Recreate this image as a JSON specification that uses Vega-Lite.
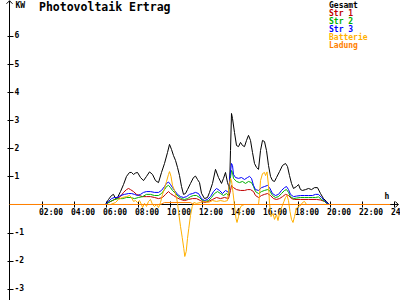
{
"$schema": "https://vega.github.io/schema/vega-lite/v6.json",
"width": 400, "height": 300, "autosize": "none", "padding": 0, "background": "white",
"config": {"view": {"stroke": null}, "font": "DejaVu Sans Mono", "axis": {"labelOverlap": false, "labelBound": false, "labelFlush": false, "grid": false, "domain": false, "tickCount": 30}},
"title": {"text": "Photovoltaik Ertrag", "anchor": "start", "frame": "group", "font": "DejaVu Sans Mono", "fontSize": 11.5, "fontWeight": "bold", "color": "black", "baseline": "top", "offset": 0, "dx": 39, "dy": 15},
"datasets": {
"gesamt": [{"t":6,"v":0},{"t":6.1875,"v":0.18},{"t":6.375,"v":0.32},{"t":6.5,"v":0.36},{"t":6.625,"v":0.21},{"t":6.75,"v":0.25},{"t":6.9375,"v":0.46},{"t":7.125,"v":0.71},{"t":7.3125,"v":1.0},{"t":7.5,"v":1.14},{"t":7.625,"v":1.14},{"t":7.75,"v":1.07},{"t":7.875,"v":1.12},{"t":8.0,"v":1.14},{"t":8.1875,"v":0.96},{"t":8.375,"v":0.85},{"t":8.5625,"v":1.0},{"t":8.75,"v":1.16},{"t":8.9375,"v":1.07},{"t":9.125,"v":0.85},{"t":9.3125,"v":0.78},{"t":9.5,"v":1.14},{"t":9.6875,"v":1.46},{"t":9.875,"v":1.85},{"t":10.0,"v":2.14},{"t":10.125,"v":1.96},{"t":10.25,"v":1.74},{"t":10.375,"v":1.57},{"t":10.5,"v":1.32},{"t":10.625,"v":1.03},{"t":10.75,"v":0.64},{"t":10.875,"v":0.36},{"t":11.0,"v":0.39},{"t":11.125,"v":0.53},{"t":11.3125,"v":0.75},{"t":11.5,"v":0.96},{"t":11.625,"v":1.01},{"t":11.75,"v":0.89},{"t":11.875,"v":0.78},{"t":12.0,"v":0.4},{"t":12.1875,"v":0.21},{"t":12.375,"v":0.25},{"t":12.5,"v":0.43},{"t":12.6875,"v":0.75},{"t":12.875,"v":1.25},{"t":13.0625,"v":0.96},{"t":13.25,"v":0.75},{"t":13.375,"v":0.93},{"t":13.5,"v":1.14},{"t":13.625,"v":0.78},{"t":13.75,"v":0.57},{"t":13.8125,"v":1.92},{"t":13.875,"v":3.24},{"t":13.9375,"v":3.06},{"t":14.0625,"v":2.56},{"t":14.1875,"v":2.1},{"t":14.3125,"v":2.06},{"t":14.4375,"v":2.21},{"t":14.5625,"v":2.1},{"t":14.6875,"v":2.06},{"t":14.8125,"v":2.28},{"t":14.9375,"v":2.46},{"t":15.0625,"v":2.28},{"t":15.1875,"v":1.85},{"t":15.3125,"v":1.46},{"t":15.4375,"v":1.32},{"t":15.5625,"v":1.25},{"t":15.6875,"v":1.92},{"t":15.8125,"v":2.28},{"t":15.9375,"v":2.24},{"t":16.0625,"v":1.92},{"t":16.1875,"v":1.39},{"t":16.3125,"v":1.0},{"t":16.4375,"v":0.85},{"t":16.5625,"v":0.82},{"t":16.6875,"v":0.96},{"t":16.875,"v":1.17},{"t":17.0625,"v":1.39},{"t":17.25,"v":1.46},{"t":17.375,"v":1.35},{"t":17.5,"v":1.03},{"t":17.625,"v":0.75},{"t":17.75,"v":0.57},{"t":17.9375,"v":0.64},{"t":18.0625,"v":0.71},{"t":18.1875,"v":0.53},{"t":18.3125,"v":0.5},{"t":18.5,"v":0.53},{"t":18.6875,"v":0.57},{"t":18.875,"v":0.53},{"t":19.0625,"v":0.6},{"t":19.25,"v":0.6},{"t":19.4375,"v":0.39},{"t":19.625,"v":0.21},{"t":19.8125,"v":0.11},{"t":19.9375,"v":0.02},{"t":20.0,"v":0}],
"str1": [{"t":6,"v":0},{"t":6.1875,"v":0.07},{"t":6.4375,"v":0.14},{"t":6.6875,"v":0.21},{"t":6.9375,"v":0.28},{"t":7.125,"v":0.43},{"t":7.3125,"v":0.53},{"t":7.4375,"v":0.57},{"t":7.5625,"v":0.53},{"t":7.75,"v":0.46},{"t":7.9375,"v":0.36},{"t":8.125,"v":0.32},{"t":8.3125,"v":0.28},{"t":8.5625,"v":0.28},{"t":8.8125,"v":0.28},{"t":9.0625,"v":0.25},{"t":9.3125,"v":0.21},{"t":9.5625,"v":0.25},{"t":9.75,"v":0.36},{"t":9.9375,"v":0.46},{"t":10.0625,"v":0.39},{"t":10.25,"v":0.32},{"t":10.4375,"v":0.25},{"t":10.6875,"v":0.18},{"t":10.9375,"v":0.14},{"t":11.1875,"v":0.18},{"t":11.4375,"v":0.21},{"t":11.6875,"v":0.21},{"t":11.9375,"v":0.14},{"t":12.1875,"v":0.07},{"t":12.4375,"v":0.11},{"t":12.6875,"v":0.18},{"t":12.9375,"v":0.25},{"t":13.1875,"v":0.21},{"t":13.4375,"v":0.25},{"t":13.6875,"v":0.21},{"t":13.8125,"v":0.5},{"t":13.875,"v":0.68},{"t":14.0,"v":0.6},{"t":14.1875,"v":0.53},{"t":14.4375,"v":0.5},{"t":14.6875,"v":0.5},{"t":14.875,"v":0.53},{"t":15.0625,"v":0.53},{"t":15.25,"v":0.46},{"t":15.375,"v":0.32},{"t":15.5625,"v":0.25},{"t":15.75,"v":0.32},{"t":15.9375,"v":0.36},{"t":16.125,"v":0.39},{"t":16.3125,"v":0.32},{"t":16.5,"v":0.21},{"t":16.6875,"v":0.18},{"t":16.875,"v":0.21},{"t":17.0625,"v":0.28},{"t":17.25,"v":0.36},{"t":17.4375,"v":0.32},{"t":17.625,"v":0.21},{"t":17.8125,"v":0.18},{"t":18.1875,"v":0.18},{"t":18.6875,"v":0.18},{"t":19.1875,"v":0.18},{"t":19.4375,"v":0.16},{"t":19.6875,"v":0.11},{"t":19.875,"v":0.02},{"t":20.0,"v":0}],
"str2": [{"t":6,"v":0},{"t":6.3125,"v":0.11},{"t":6.5625,"v":0.18},{"t":6.8125,"v":0.21},{"t":7.0625,"v":0.21},{"t":7.3125,"v":0.25},{"t":7.5625,"v":0.25},{"t":7.8125,"v":0.21},{"t":8.0625,"v":0.25},{"t":8.3125,"v":0.28},{"t":8.5625,"v":0.36},{"t":8.8125,"v":0.36},{"t":9.0625,"v":0.32},{"t":9.3125,"v":0.32},{"t":9.5,"v":0.39},{"t":9.6875,"v":0.53},{"t":9.8125,"v":0.64},{"t":9.9375,"v":0.68},{"t":10.0625,"v":0.6},{"t":10.1875,"v":0.5},{"t":10.375,"v":0.39},{"t":10.5625,"v":0.28},{"t":10.75,"v":0.21},{"t":10.9375,"v":0.18},{"t":11.125,"v":0.21},{"t":11.3125,"v":0.28},{"t":11.5,"v":0.32},{"t":11.6875,"v":0.32},{"t":11.875,"v":0.25},{"t":12.0625,"v":0.14},{"t":12.25,"v":0.11},{"t":12.4375,"v":0.14},{"t":12.625,"v":0.25},{"t":12.8125,"v":0.39},{"t":13.0,"v":0.46},{"t":13.1875,"v":0.39},{"t":13.375,"v":0.32},{"t":13.5625,"v":0.39},{"t":13.6875,"v":0.32},{"t":13.781,"v":0.85},{"t":13.875,"v":1.21},{"t":13.9375,"v":1.14},{"t":14.0,"v":0.93},{"t":14.1875,"v":0.82},{"t":14.375,"v":0.78},{"t":14.5625,"v":0.82},{"t":14.75,"v":0.75},{"t":14.9375,"v":0.82},{"t":15.125,"v":0.78},{"t":15.25,"v":0.64},{"t":15.375,"v":0.46},{"t":15.5625,"v":0.39},{"t":15.75,"v":0.46},{"t":15.9375,"v":0.5},{"t":16.125,"v":0.53},{"t":16.25,"v":0.5},{"t":16.4375,"v":0.32},{"t":16.625,"v":0.25},{"t":16.8125,"v":0.28},{"t":17.0,"v":0.39},{"t":17.1875,"v":0.5},{"t":17.3125,"v":0.53},{"t":17.4375,"v":0.43},{"t":17.5625,"v":0.28},{"t":17.75,"v":0.21},{"t":17.9375,"v":0.23},{"t":18.1875,"v":0.25},{"t":18.4375,"v":0.25},{"t":18.6875,"v":0.25},{"t":18.9375,"v":0.25},{"t":19.125,"v":0.25},{"t":19.3125,"v":0.27},{"t":19.5,"v":0.18},{"t":19.6875,"v":0.11},{"t":19.875,"v":0.02},{"t":20.0,"v":0}],
"str3": [{"t":6,"v":0},{"t":6.1875,"v":0.11},{"t":6.375,"v":0.21},{"t":6.5625,"v":0.25},{"t":6.75,"v":0.25},{"t":6.9375,"v":0.32},{"t":7.1875,"v":0.36},{"t":7.4375,"v":0.39},{"t":7.625,"v":0.39},{"t":7.8125,"v":0.36},{"t":8.0,"v":0.32},{"t":8.1875,"v":0.36},{"t":8.375,"v":0.43},{"t":8.5625,"v":0.46},{"t":8.8125,"v":0.46},{"t":9.0625,"v":0.43},{"t":9.3125,"v":0.43},{"t":9.5,"v":0.5},{"t":9.6875,"v":0.64},{"t":9.8125,"v":0.75},{"t":9.9375,"v":0.8},{"t":10.0625,"v":0.71},{"t":10.1875,"v":0.6},{"t":10.3125,"v":0.5},{"t":10.5,"v":0.36},{"t":10.6875,"v":0.28},{"t":10.875,"v":0.25},{"t":11.0625,"v":0.28},{"t":11.25,"v":0.36},{"t":11.4375,"v":0.39},{"t":11.625,"v":0.43},{"t":11.8125,"v":0.39},{"t":12.0,"v":0.21},{"t":12.1875,"v":0.14},{"t":12.375,"v":0.18},{"t":12.5625,"v":0.28},{"t":12.75,"v":0.46},{"t":12.9375,"v":0.57},{"t":13.125,"v":0.5},{"t":13.3125,"v":0.39},{"t":13.5,"v":0.5},{"t":13.6875,"v":0.43},{"t":13.781,"v":1.03},{"t":13.875,"v":1.46},{"t":13.9375,"v":1.39},{"t":14.0,"v":1.07},{"t":14.125,"v":0.96},{"t":14.3125,"v":0.93},{"t":14.5,"v":0.96},{"t":14.6875,"v":0.89},{"t":14.875,"v":0.96},{"t":15.0,"v":1.0},{"t":15.125,"v":0.93},{"t":15.25,"v":0.68},{"t":15.375,"v":0.53},{"t":15.5625,"v":0.5},{"t":15.75,"v":0.6},{"t":15.9375,"v":0.64},{"t":16.125,"v":0.68},{"t":16.25,"v":0.6},{"t":16.4375,"v":0.39},{"t":16.625,"v":0.32},{"t":16.8125,"v":0.36},{"t":17.0,"v":0.5},{"t":17.1875,"v":0.6},{"t":17.3125,"v":0.64},{"t":17.4375,"v":0.53},{"t":17.5625,"v":0.36},{"t":17.75,"v":0.28},{"t":17.9375,"v":0.3},{"t":18.1875,"v":0.32},{"t":18.4375,"v":0.32},{"t":18.6875,"v":0.32},{"t":18.9375,"v":0.32},{"t":19.125,"v":0.36},{"t":19.3125,"v":0.36},{"t":19.5,"v":0.25},{"t":19.6875,"v":0.14},{"t":19.875,"v":0.04},{"t":20.0,"v":0}],
"batterie": [{"t":6.3125,"v":0},{"t":6.625,"v":0.07},{"t":6.8125,"v":0.18},{"t":7.0625,"v":0.25},{"t":7.3125,"v":0.28},{"t":7.5,"v":0.32},{"t":7.625,"v":0.25},{"t":7.75,"v":0.11},{"t":7.875,"v":0.14},{"t":8.0,"v":0.07},{"t":8.125,"v":0.14},{"t":8.25,"v":0},{"t":8.3125,"v":-0.11},{"t":8.4375,"v":0.04},{"t":8.5625,"v":-0.07},{"t":8.6875,"v":0.11},{"t":8.8125,"v":0.18},{"t":8.9375,"v":0},{"t":9.0625,"v":-0.07},{"t":9.1875,"v":0},{"t":9.3125,"v":-0.11},{"t":9.4375,"v":0.07},{"t":9.5625,"v":0.36},{"t":9.6875,"v":0.57},{"t":9.8125,"v":0.82},{"t":9.9375,"v":1.07},{"t":10.0,"v":1.17},{"t":10.094,"v":1.0},{"t":10.1875,"v":0.68},{"t":10.3125,"v":0.5},{"t":10.4375,"v":0.25},{"t":10.5,"v":0.04},{"t":10.581,"v":-0.32},{"t":10.6875,"v":-0.78},{"t":10.794,"v":-1.17},{"t":10.894,"v":-1.57},{"t":10.956,"v":-1.85},{"t":11.044,"v":-1.67},{"t":11.125,"v":-1.21},{"t":11.206,"v":-0.85},{"t":11.3125,"v":-0.39},{"t":11.419,"v":-0.07},{"t":11.519,"v":0.07},{"t":11.6875,"v":0.04},{"t":11.9375,"v":0.07},{"t":12.1875,"v":0.11},{"t":12.4375,"v":0.07},{"t":12.6875,"v":0.14},{"t":12.9375,"v":0.11},{"t":13.1875,"v":0.14},{"t":13.4375,"v":0.11},{"t":13.625,"v":0.14},{"t":13.719,"v":0.68},{"t":13.8125,"v":0.93},{"t":13.875,"v":0.85},{"t":13.969,"v":0.43},{"t":14.0625,"v":-0.04},{"t":14.156,"v":-0.5},{"t":14.219,"v":-0.64},{"t":14.3125,"v":-0.43},{"t":14.406,"v":-0.14},{"t":14.5,"v":-0.04},{"t":14.6875,"v":0},{"t":15.5625,"v":0},{"t":15.625,"v":0.32},{"t":15.6875,"v":0.85},{"t":15.8125,"v":1.1},{"t":15.9375,"v":1.14},{"t":16.0,"v":1.03},{"t":16.094,"v":1.16},{"t":16.1875,"v":0.68},{"t":16.25,"v":0.04},{"t":16.344,"v":-0.43},{"t":16.469,"v":-0.32},{"t":16.5625,"v":-0.53},{"t":16.6875,"v":-0.36},{"t":16.781,"v":-0.57},{"t":16.906,"v":-0.25},{"t":17.031,"v":-0.07},{"t":17.156,"v":0.11},{"t":17.25,"v":0.25},{"t":17.344,"v":0.32},{"t":17.4375,"v":0.14},{"t":17.531,"v":-0.25},{"t":17.625,"v":-0.53},{"t":17.719,"v":-0.64},{"t":17.8125,"v":-0.43},{"t":17.906,"v":-0.18},{"t":18.031,"v":-0.07},{"t":18.1875,"v":-0.04},{"t":18.3125,"v":0.07},{"t":18.4375,"v":0.11},{"t":18.5625,"v":0}],
"ladung": [{"t":0,"v":0},{"t":9.4375,"v":0},{"t":9.6875,"v":0.07},{"t":11.3125,"v":0.07},{"t":11.5,"v":0},{"t":23.8,"v":0}]
},
"layer": [
 {"data": {"values": [{}]}, "mark": {"type": "rule", "color": "black", "strokeWidth": 1},
  "encoding": {"x": {"datum": 0.0001, "type": "quantitative", "scale": {"domain": [-0.59375, 24.40625], "nice": false, "zero": false}}, "x2": {"datum": 24.3},
   "y": {"datum": 0.0001, "type": "quantitative", "scale": {"domain": [-3.3986, 7.2776], "nice": false, "zero": false}}}},
 {"data": {"values": [{}]}, "mark": {"type": "rule", "color": "black", "strokeWidth": 1},
  "encoding": {"x": {"datum": 0.0001, "type": "quantitative", "scale": {"domain": [-0.59375, 24.40625], "nice": false, "zero": false}},
   "y": {"datum": -3.6, "type": "quantitative", "scale": {"domain": [-3.3986, 7.2776], "nice": false, "zero": false}}, "y2": {"datum": 7.25}}},
 {"data": {"name": "gesamt"}, "mark": {"type": "line", "strokeWidth": 1}, "encoding": {
  "x": {"field": "t", "type": "quantitative", "scale": {"domain": [-0.59375, 24.40625], "nice": false, "zero": false},
   "axis": {"values": [2,4,6,8,10,12,14,16,18,20,22,24], "tickCount": 30, "offset": -99, "domain": false, "grid": false, "tickSize": 6, "tickColor": "black", "tickWidth": 1,
    "labelAlign": "left", "labelOffset": -3, "labelPadding": 1, "labelBaseline": "top", "labelFont": "DejaVu Sans Mono", "labelFontSize": 8, "labelFontWeight": "bold", "labelColor": "black",
    "labelExpr": "(datum.value < 10 ? '0' : '') + datum.value + ':00'", "labelOverlap": false, "labelBound": false, "labelFlush": false,
    "title": "h", "titleX": 386.5, "titleY": -5, "titleAngle": 0, "titleAlign": "center", "titleBaseline": "middle", "titleFont": "DejaVu Sans Mono", "titleFontSize": 8, "titleFontWeight": "bold", "titleColor": "black"}},
  "y": {"field": "v", "type": "quantitative", "scale": {"domain": [-3.3986, 7.2776], "nice": false, "zero": false},
   "axis": {"orient": "right", "offset": -393, "values": [-3,-2,-1,1,2,3,4,5,6], "tickCount": 30, "labelExpr": "'' + datum.value", "domain": false, "grid": false, "tickSize": 6, "tickColor": "black", "tickWidth": 1,
    "labelAlign": "left", "labelBaseline": "middle", "labelPadding": 1, "labelFont": "DejaVu Sans Mono", "labelFontSize": 8, "labelFontWeight": "bold", "labelColor": "black", "labelOverlap": false, "labelBound": false, "labelFlush": false,
    "title": "KW", "titleX": 8, "titleY": 1, "titleAngle": 0, "titleAlign": "left", "titleBaseline": "top", "titleFont": "DejaVu Sans Mono", "titleFontSize": 8, "titleFontWeight": "bold", "titleColor": "black"}},
  "color": {"datum": "Gesamt", "type": "nominal",
   "scale": {"domain": ["Gesamt", "Str 1", "Str 2", "Str 3", "Batterie", "Ladung"], "range": ["#000000", "#c00000", "#00b000", "#0000ff", "#ffb000", "#ff8000"]},
   "legend": {"orient": "none", "legendX": 321, "legendY": 1.5, "title": null, "padding": 0, "symbolOpacity": 0, "symbolSize": 0, "symbolStrokeWidth": 0, "labelOffset": 0,
     "labelFont": "DejaVu Sans Mono", "labelFontSize": 8, "labelFontWeight": "bold", "rowPadding": -0.2, "labelColor": {"expr": "scale('color', datum.value)"}}}}},
 {"data": {"name": "str1"}, "mark": {"type": "line", "strokeWidth": 1}, "encoding": {"x": {"field": "t", "type": "quantitative"}, "y": {"field": "v", "type": "quantitative"}, "color": {"datum": "Str 1", "type": "nominal"}}},
 {"data": {"name": "str2"}, "mark": {"type": "line", "strokeWidth": 1}, "encoding": {"x": {"field": "t", "type": "quantitative"}, "y": {"field": "v", "type": "quantitative"}, "color": {"datum": "Str 2", "type": "nominal"}}},
 {"data": {"name": "str3"}, "mark": {"type": "line", "strokeWidth": 1}, "encoding": {"x": {"field": "t", "type": "quantitative"}, "y": {"field": "v", "type": "quantitative"}, "color": {"datum": "Str 3", "type": "nominal"}}},
 {"data": {"name": "batterie"}, "mark": {"type": "line", "strokeWidth": 1}, "encoding": {"x": {"field": "t", "type": "quantitative"}, "y": {"field": "v", "type": "quantitative"}, "color": {"datum": "Batterie", "type": "nominal"}}},
 {"data": {"name": "ladung"}, "mark": {"type": "line", "strokeWidth": 1}, "encoding": {"x": {"field": "t", "type": "quantitative"}, "y": {"field": "v", "type": "quantitative"}, "color": {"datum": "Ladung", "type": "nominal"}}},
 {"data": {"values": [{}]}, "mark": {"type": "point", "shape": "M-1,-1L0,0L-1,1", "filled": false, "stroke": "black", "strokeWidth": 1, "size": 36, "opacity": 1}, "encoding": {"x": {"datum": 24.3, "type": "quantitative"}, "y": {"datum": 0.0001, "type": "quantitative"}}},
 {"data": {"values": [{}]}, "mark": {"type": "point", "shape": "M-1,1L0,0L1,1", "filled": false, "stroke": "black", "strokeWidth": 1, "size": 36, "opacity": 1}, "encoding": {"x": {"datum": 0.0001, "type": "quantitative"}, "y": {"datum": 7.25, "type": "quantitative"}}}
]
}
